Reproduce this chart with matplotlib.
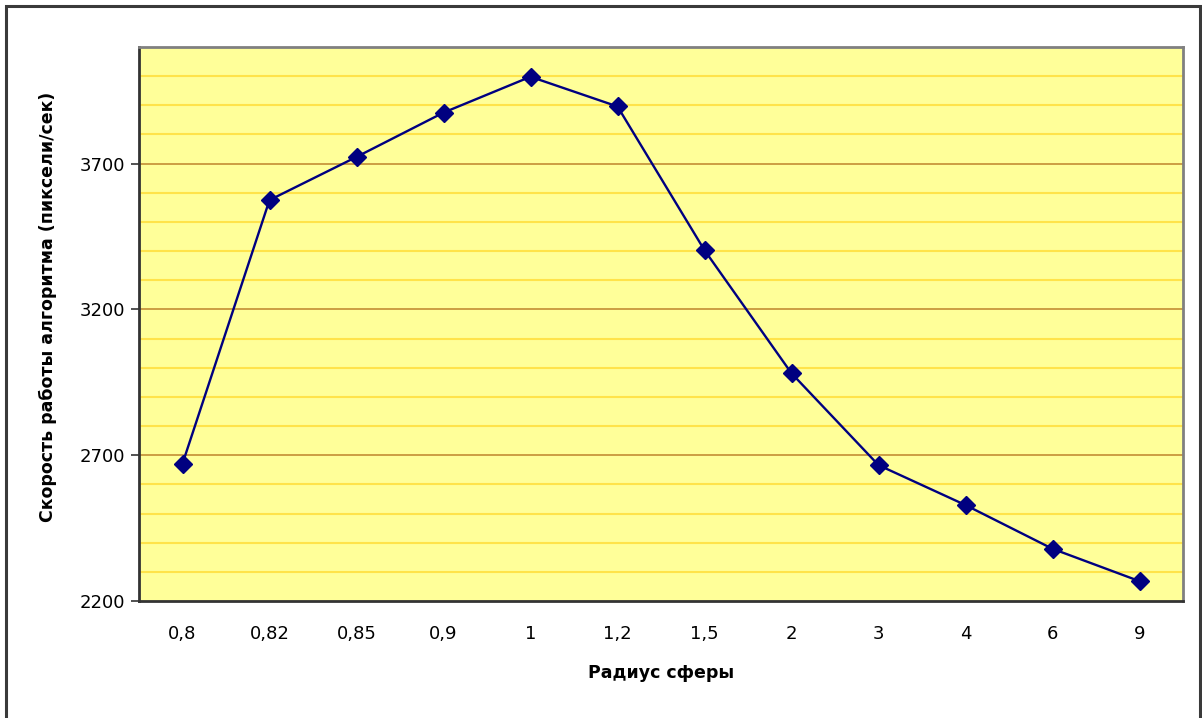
import matplotlib
matplotlib.use("Agg")
import matplotlib.pyplot as plt
from matplotlib.patches import Rectangle

plt.rcParams['font.family'] = ['DejaVu Sans']

categories = ["0,8", "0,82", "0,85", "0,9", "1", "1,2", "1,5", "2", "3", "4", "6", "9"]
speed = [2671, 3575, 3723, 3875, 3998, 3896, 3403, 2981, 2666, 2529, 2379, 2268]
major_ticks = [2200, 2700, 3200, 3700]
minor_levels = [2300, 2400, 2500, 2600, 2800, 2900, 3000, 3100, 3300, 3400, 3500, 3600, 3800, 3900, 4000]
ymin, ymax = 2200, 4100
xlabel = "Радиус сферы"
ylabel = "Скорость работы алгоритма (пиксели/сек)"

W, H = 1202, 718
fig = plt.figure(figsize=(W / 100, H / 100), dpi=100)
fig.patch.set_facecolor('white')

# outer frame
fig.patches.append(Rectangle((6 / W, -0.05), (1200 - 6) / W, (H - 6) / H + 0.05,
                             transform=fig.transFigure, fill=False,
                             edgecolor='#3a3a3a', linewidth=2.2))

ax = fig.add_axes([139 / W, 1 - 601 / H, (1183 - 139) / W, (601 - 47) / H])
ax.set_facecolor('#FFFF99')

x = list(range(len(categories)))
ax.set_xlim(-0.5, len(categories) - 0.5)
ax.set_ylim(ymin, ymax)

for v in minor_levels:
    ax.axhline(v, color='#FFE34A', linewidth=1.5, zorder=1)
for v in major_ticks[1:]:
    ax.axhline(v, color='#C8963C', linewidth=1.3, zorder=1)

ax.plot(x, speed, color='#000080', linewidth=1.7, marker='D', markersize=9.2,
        markerfacecolor='#000080', markeredgecolor='#000080', zorder=3)

ax.set_yticks(major_ticks)
ax.set_yticklabels([str(v) for v in major_ticks])
ax.set_xticks(x)
ax.set_xticklabels(categories)
ax.tick_params(axis='y', direction='out', length=6, width=1.2, color='#333333',
               labelsize=13, pad=4)
ax.tick_params(axis='x', length=0, labelsize=13, pad=17)

for side in ['left', 'bottom']:
    ax.spines[side].set_color('#333333')
    ax.spines[side].set_linewidth(2)
for side in ['top', 'right']:
    ax.spines[side].set_color('#808080')
    ax.spines[side].set_linewidth(2)

fig.text(661 / W, 1 - 673 / H, xlabel, ha='center', va='center',
         fontsize=12.5, fontweight='bold')
fig.text(48 / W, 1 - 307 / H, ylabel, ha='center', va='center', rotation=90,
         fontsize=12.5, fontweight='bold')

fig.savefig('out.png', dpi=100, facecolor='white')
